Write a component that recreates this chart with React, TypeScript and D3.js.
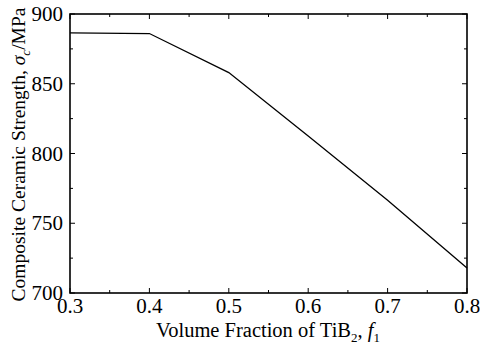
import React from "react";
import * as d3 from "d3";

const fractions = [0.3, 0.4, 0.5, 0.6, 0.7, 0.8];
const strength = [886.5, 886, 858, 812.5, 766.5, 718];
const xTicks = [0.3, 0.4, 0.5, 0.6, 0.7, 0.8];
const yTicks = [700, 750, 800, 850, 900];

export default function App() {
  const W = 480, H = 348;
  const L = 70, R = 467, T = 14, B = 293;
  const x = d3.scaleLinear().domain([0.3, 0.8]).range([L, R]);
  const y = d3.scaleLinear().domain([700, 900]).range([B, T]);
  const line = d3.line<number>().x((_, i) => x(fractions[i])).y((d) => y(d));
  const xMinor = d3.range(0.3, 0.8001, 0.05);
  const yMinor = d3.range(700, 900.1, 25);
  const font = "'Liberation Serif', 'Times New Roman', serif";
  return (
    <svg width={W} height={H} style={{ position: "absolute", left: 0, top: 0 }} fontFamily={font}>
      <rect width={W} height={H} fill="white" />
      {xMinor.map((v, i) => {
        const major = i % 2 === 0;
        const len = major ? 5 : 3;
        return (
          <g key={"xm" + i} stroke="#000" strokeWidth={1}>
            <line x1={x(v)} x2={x(v)} y1={B} y2={B - len} />
            <line x1={x(v)} x2={x(v)} y1={T} y2={T + len} />
          </g>
        );
      })}
      {yMinor.map((v, i) => {
        const major = i % 2 === 0;
        const len = major ? 5 : 3;
        return (
          <g key={"ym" + i} stroke="#000" strokeWidth={1}>
            <line x1={L} x2={L + len} y1={y(v)} y2={y(v)} />
            <line x1={R} x2={R - len} y1={y(v)} y2={y(v)} />
          </g>
        );
      })}
      <rect x={L} y={T} width={R - L} height={B - T} fill="none" stroke="#000" strokeWidth={1.6} />
      <path d={line(strength) || ""} fill="none" stroke="#000" strokeWidth={1.3} />
      {xTicks.map((v) => (
        <text key={"xt" + v} x={x(v)} y={313} fontSize={21} textAnchor="middle">
          {v.toFixed(1)}
        </text>
      ))}
      {yTicks.map((v) => (
        <text key={"yt" + v} x={63} y={y(v) + 7} fontSize={21} textAnchor="end">
          {v}
        </text>
      ))}
      <text x={268} y={337} fontSize={20.5} textAnchor="middle">
        Volume Fraction of TiB<tspan dy={5} fontSize={13}>2</tspan>
        <tspan dy={-5}>, </tspan>
        <tspan fontStyle="italic">f</tspan>
        <tspan dy={5} fontSize={13}>1</tspan>
      </text>
      <text transform={`translate(25,${(T + B) / 2 + 1}) rotate(-90)`} fontSize={19.5} textAnchor="middle">
        Composite Ceramic Strength, <tspan fontStyle="italic">σ</tspan>
        <tspan dy={5} fontSize={13} fontStyle="italic">c</tspan>
        <tspan dy={-5}>/MPa</tspan>
      </text>
    </svg>
  );
}
